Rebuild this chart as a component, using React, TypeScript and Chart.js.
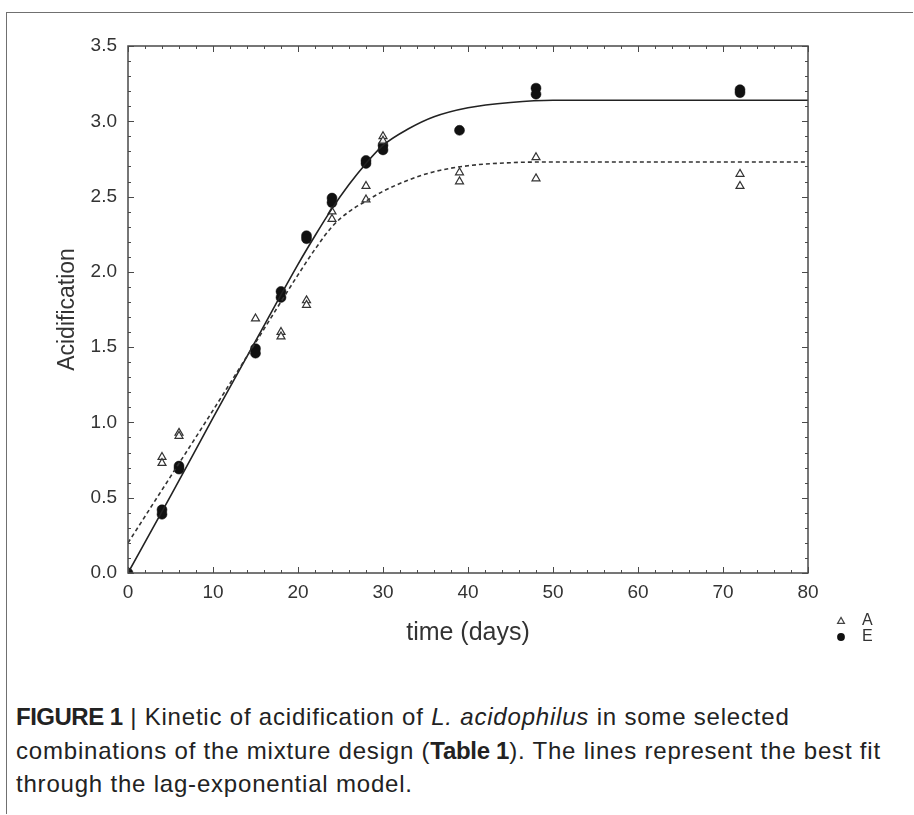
import React, { useEffect, useRef } from 'react';
import { Chart, registerables } from 'chart.js';

Chart.register(...registerables);

// ---- data ----
const seriesLabels = ['A', 'E'];

const timesA = [4, 4, 6, 6, 15, 18, 18, 21, 21, 24, 24, 28, 28, 30, 30, 39, 39, 48, 48, 72, 72];
const valuesA = [0.77, 0.73, 0.93, 0.91, 1.69, 1.6, 1.57, 1.81, 1.78, 2.4, 2.35, 2.57, 2.48, 2.9, 2.87, 2.66, 2.6, 2.76, 2.62, 2.65, 2.57];

const timesE = [0, 4, 4, 6, 6, 15, 15, 18, 18, 21, 21, 24, 24, 28, 28, 30, 30, 39, 48, 48, 72, 72];
const valuesE = [0, 0.42, 0.39, 0.71, 0.69, 1.49, 1.46, 1.87, 1.83, 2.24, 2.22, 2.49, 2.46, 2.74, 2.72, 2.84, 2.81, 2.94, 3.22, 3.18, 3.21, 3.19];

// best-fit curves (lag-exponential model)
const fitTimes = [0, 5, 10, 15, 20, 22, 24, 26, 28, 30, 33, 36, 40, 45, 50, 60, 80];
const fitE = [0, 0.51, 1.03, 1.54, 2.05, 2.24, 2.42, 2.58, 2.72, 2.84, 2.95, 3.03, 3.09, 3.125, 3.14, 3.14, 3.14];
const fitA = [0.2, 0.64, 1.08, 1.53, 1.98, 2.15, 2.3, 2.4, 2.47, 2.535, 2.61, 2.665, 2.705, 2.725, 2.73, 2.73, 2.73];

const xMin = 0, xMax = 80, xStep = 10, xMinorStep = 2;
const yMin = 0, yMax = 3.5, yStep = 0.5, yMinorStep = 0.1;

const xTitle = 'time (days)';
const yTitle = 'Acidification';

const FONT = '"Liberation Sans", Arial, sans-serif';
const TEXT = '#333';

const toPoints = (xs: number[], ys: number[]) => xs.map((x, i) => ({ x, y: ys[i] }));

const framePlugin = {
  id: 'frameTicks',
  afterDraw(chart: any) {
    const { ctx, chartArea, scales } = chart;
    const { left, right, top, bottom } = chartArea;
    const xs = scales.x, ys = scales.y;
    ctx.save();
    ctx.strokeStyle = '#4a4a4a';
    ctx.lineWidth = 1.5;
    ctx.strokeRect(left, top, right - left, bottom - top);
    ctx.lineWidth = 1;
    ctx.beginPath();
    const nX = Math.round((xMax - xMin) / xMinorStep);
    for (let i = 0; i <= nX; i++) {
      const v = xMin + i * xMinorStep;
      const px = Math.round(xs.getPixelForValue(v)) + 0.5;
      const len = Math.abs(v % xStep) < 1e-9 ? 6 : 3;
      ctx.moveTo(px, bottom); ctx.lineTo(px, bottom - len);
      ctx.moveTo(px, top); ctx.lineTo(px, top + len);
    }
    const nY = Math.round((yMax - yMin) / yMinorStep);
    const ratio = Math.round(yStep / yMinorStep);
    for (let i = 0; i <= nY; i++) {
      const v = yMin + i * yMinorStep;
      const py = Math.round(ys.getPixelForValue(v)) + 0.5;
      const len = i % ratio === 0 ? 6 : 3;
      ctx.moveTo(left, py); ctx.lineTo(left + len, py);
      ctx.moveTo(right, py); ctx.lineTo(right - len, py);
    }
    ctx.stroke();

    // legend (outside bottom-right of the plot)
    const lx = right + 33;
    const ly = bottom + 48;
    ctx.font = `16px ${FONT}`;
    ctx.fillStyle = TEXT;
    ctx.textBaseline = 'middle';
    ctx.textAlign = 'left';
    ctx.beginPath();
    ctx.strokeStyle = '#444';
    ctx.lineWidth = 1.2;
    const r = 3.6;
    ctx.moveTo(lx, ly - r);
    ctx.lineTo(lx + r * 0.95, ly + r * 0.65);
    ctx.lineTo(lx - r * 0.95, ly + r * 0.65);
    ctx.closePath();
    ctx.stroke();
    ctx.fillText(seriesLabels[0], lx + 21, ly);
    ctx.beginPath();
    ctx.fillStyle = '#111';
    ctx.arc(lx, ly + 16, 3.9, 0, Math.PI * 2);
    ctx.fill();
    ctx.fillStyle = TEXT;
    ctx.fillText(seriesLabels[1], lx + 21, ly + 16);
    ctx.restore();
  },
};

function FigureChart() {
  const ref = useRef<HTMLCanvasElement | null>(null);
  useEffect(() => {
    if (!ref.current) return;
    const chart = new Chart(ref.current, {
      type: 'scatter',
      data: {
        datasets: [
          {
            label: 'fit A',
            data: toPoints(fitTimes, fitA),
            showLine: true,
            borderColor: '#333',
            borderWidth: 1.6,
            borderDash: [4, 3],
            pointRadius: 0,
            cubicInterpolationMode: 'monotone',
            fill: false,
          },
          {
            label: 'fit E',
            data: toPoints(fitTimes, fitE),
            showLine: true,
            borderColor: '#222',
            borderWidth: 1.6,
            pointRadius: 0,
            cubicInterpolationMode: 'monotone',
            fill: false,
          },
          {
            label: seriesLabels[0],
            data: toPoints(timesA, valuesA),
            pointStyle: 'triangle',
            pointRadius: 4.6,
            backgroundColor: 'rgba(255,255,255,0.9)',
            borderColor: '#333',
            borderWidth: 1.2,
          },
          {
            label: seriesLabels[1],
            data: toPoints(timesE, valuesE),
            pointStyle: 'circle',
            pointRadius: 5,
            backgroundColor: '#111',
            borderColor: '#111',
            borderWidth: 0.5,
          },
        ],
      },
      options: {
        animation: false,
        responsive: false,
        maintainAspectRatio: false,
        layout: { padding: { left: 50, top: 46, right: 106, bottom: 7 } },
        plugins: { legend: { display: false }, tooltip: { enabled: false } },
        scales: {
          x: {
            type: 'linear',
            min: xMin,
            max: xMax,
            grid: { display: false, drawTicks: false },
            border: { display: false },
            ticks: { stepSize: xStep, font: { family: FONT, size: 19 }, color: TEXT, padding: 8.6, maxRotation: 0 },
            title: { display: true, text: xTitle, font: { family: FONT, size: 25 }, color: TEXT, padding: { top: 0, bottom: 5 } },
            afterFit: (s: any) => { s.height = 80; },
          },
          y: {
            type: 'linear',
            min: yMin,
            max: yMax,
            grid: { display: false, drawTicks: false },
            border: { display: false },
            ticks: {
              stepSize: yStep,
              font: { family: FONT, size: 19 },
              color: TEXT,
              padding: 11,
              callback: (v: any) => Number(v).toFixed(1),
            },
            title: { display: true, text: yTitle, font: { family: FONT, size: 23 }, color: TEXT, padding: { top: 4, bottom: 0 } },
            afterFit: (s: any) => { s.width = 78; },
          },
        },
      },
      plugins: [framePlugin],
    } as any);
    return () => chart.destroy();
  }, []);
  return <canvas ref={ref} width={914} height={660} style={{ position: 'absolute', left: 0, top: 0, width: 914, height: 660 }} />;
}

export default function App() {
  return (
    <div style={{ position: 'absolute', left: 0, top: 0, width: 914, height: 815, overflow: 'hidden', background: '#fff' }}>
      <div
        style={{
          position: 'absolute',
          left: 6,
          top: 12,
          width: 906,
          height: 801,
          borderLeft: '1.5px solid #707070',
          borderTop: '1.5px solid #707070',
        }}
      />
      <FigureChart />
      <div
        style={{
          position: 'absolute',
          left: 16,
          top: 700,
          fontFamily: FONT,
          fontSize: 24,
          letterSpacing: '0.8px',
          lineHeight: '33.5px',
          color: '#222',
          whiteSpace: 'nowrap',
        }}
      >
        <b style={{ letterSpacing: '-0.5px' }}>FIGURE 1</b> | Kinetic of acidification of <i>L. acidophilus</i> in some selected
        <br />
        combinations of the mixture design (<b style={{ letterSpacing: '-0.3px' }}>Table 1</b>). The lines represent the best fit
        <br />
        through the lag-exponential model.
      </div>
    </div>
  );
}
